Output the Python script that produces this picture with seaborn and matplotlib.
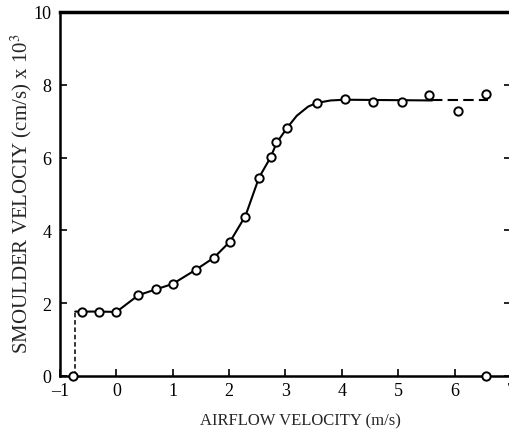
import matplotlib
matplotlib.use("Agg")
import matplotlib.pyplot as plt
import seaborn as sns
import pandas as pd

# measured points (airflow m/s, smoulder velocity cm/s x 10^3)
airflow = [-0.77, -0.61, -0.30, 0.00, 0.39, 0.70, 1.00, 1.42, 1.73, 2.02, 2.29,
           2.53, 2.74, 2.84, 3.03, 3.55, 4.05, 4.55, 5.07, 5.55, 6.06, 6.56, 6.56]
smoulder = [0.00, 1.76, 1.76, 1.75, 2.22, 2.38, 2.52, 2.92, 3.23, 3.68, 4.36,
            5.44, 6.02, 6.43, 6.80, 7.50, 7.61, 7.53, 7.53, 7.71, 7.27, 7.76, 0.00]

# fitted curve (solid part)
fit_x = [-0.73, -0.61, -0.30, 0.00, 0.39, 0.70, 1.00, 1.42, 1.73, 2.02, 2.29,
         2.53, 2.74, 2.84, 3.03, 3.20, 3.40, 3.55, 3.80, 4.05, 5.60]
fit_y = [1.77, 1.77, 1.77, 1.76, 2.22, 2.38, 2.53, 2.93, 3.25, 3.70, 4.40,
         5.45, 6.02, 6.40, 6.82, 7.15, 7.40, 7.50, 7.57, 7.59, 7.57]
# extrapolated part (dashed)
ext_x = [5.60, 6.60]
ext_y = [7.57, 7.57]
# extinction limit (dashed vertical)
lim_x = [-0.73, -0.73]
lim_y = [0.00, 1.77]

xticks = [-1, 0, 1, 2, 3, 4, 5, 6, 7]
yticks = [0, 2, 4, 6, 8, 10]

sns.set_style("ticks")
plt.rcParams["font.family"] = ["Liberation Serif", "DejaVu Serif"]
plt.rcParams["mathtext.fontset"] = "stix"

fig = plt.figure(figsize=(5.10, 4.35), dpi=100)
ax = fig.add_axes([60 / 510, 1 - 377 / 435, 451 / 510, 364 / 435])

fit_df = pd.DataFrame({"x": fit_x, "y": fit_y})
sns.lineplot(data=fit_df, x="x", y="y", sort=False, estimator=None,
             color="black", linewidth=1.5, ax=ax)
sns.lineplot(x=ext_x, y=ext_y, estimator=None, color="black", linewidth=1.5, ax=ax,
             linestyle=(0, (5, 2.5)))
sns.lineplot(x=lim_x, y=lim_y, estimator=None, sort=False, color="black",
             linewidth=1.1, ax=ax, linestyle=(0, (3, 1.8)))
pts = pd.DataFrame({"x": airflow, "y": smoulder})
sns.scatterplot(data=pts, x="x", y="y", ax=ax, s=36, marker="o",
                facecolor="white", edgecolor="black", linewidth=1.4, zorder=5, clip_on=False)

ax.set_xlim(-1, 7)
ax.set_ylim(0, 10)
ax.set_xticks(xticks)
ax.set_yticks(yticks)
ax.set_xticklabels(["\u2013" + str(abs(t)) if t < 0 else str(t) for t in xticks])
ax.tick_params(direction="in", length=5, width=1.2, labelsize=13, pad=4,
               right=True, top=False, colors="black")
ax.tick_params(axis="y", pad=6)
for s in ax.spines.values():
    s.set_linewidth(1.8)
    s.set_color("black")
ax.spines["top"].set_linewidth(2.5)

ax.set_xlabel("AIRFLOW VELOCITY (m/s)", fontsize=12)
ax.set_ylabel("SMOULDER VELOCIY (cm/s) x 10$^3$", fontsize=15)
ax.xaxis.set_label_coords((300 - 60) / 451, -(413 - 377) / 364)
ax.yaxis.set_label_coords(-(60 - 21) / 451, (377 - 194) / 364)
ax.yaxis.label.set_va("center")

fig.savefig("out.png", dpi=100)
